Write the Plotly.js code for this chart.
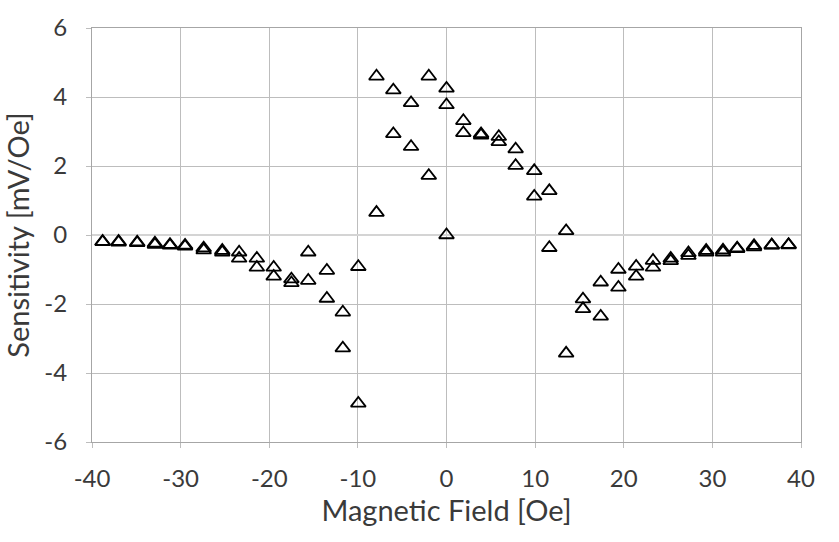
<!DOCTYPE html>
<html>
<head>
<meta charset="utf-8">
<script src="https://cdn.plot.ly/plotly-3.0.1.min.js"></script>
<style>html,body{margin:0;padding:0;background:#fff;}#chart{width:839px;height:542px;}</style>
</head>
<body>
<div id="chart"></div>
<script>
// Magnetic field values (Oe)
const fieldOe = [-38.8,-37.0,-34.9,-32.9,-31.2,-29.5,-27.4,-25.3,-23.4,-21.4,-19.5,-17.5,-15.6,-13.5,-11.7,-9.95,-7.9,-6.0,-4.0,-2.0,0,1.9,3.9,5.9,7.8,9.9,11.6,13.5,15.4,17.4,19.4,21.4,23.3,25.3,27.3,29.3,31.2,32.8,34.7,36.7,38.6];
// Sensitivity (mV/Oe), sweep A
const sweepA = [-0.19,-0.19,-0.21,-0.24,-0.28,-0.30,-0.38,-0.45,-0.50,-0.68,-0.94,-1.28,-0.50,-1.03,-2.24,-0.92,4.60,4.20,3.83,4.60,4.25,3.31,2.93,2.85,2.49,1.86,1.28,0.12,-1.86,-1.37,-1.00,-0.91,-0.74,-0.68,-0.52,-0.45,-0.44,-0.38,-0.31,-0.29,-0.28];
// Sensitivity (mV/Oe), sweep B
const sweepB = [-0.20,-0.21,-0.23,-0.28,-0.30,-0.33,-0.44,-0.50,-0.68,-0.94,-1.20,-1.39,-1.32,-1.84,-3.28,-4.88,0.65,2.93,2.56,1.72,3.77,2.96,2.89,2.70,2.01,1.12,-0.37,-3.43,-2.14,-2.36,-1.52,-1.20,-0.94,-0.75,-0.60,-0.50,-0.50,-0.40,-0.35,-0.30,-0.29];
// Extra point at zero field
const extraX = [0];
const extraY = [0.0];

const xTicks = [-40,-30,-20,-10,0,10,20,30,40];
const yTicks = [-6,-4,-2,0,2,4,6];

const marker = {symbol:'triangle-up-open', size:13, color:'#000', line:{width:1.8, color:'#000'}};
const traces = [
  {x: fieldOe, y: sweepA, mode:'markers', type:'scatter', marker: marker, showlegend:false},
  {x: fieldOe, y: sweepB, mode:'markers', type:'scatter', marker: marker, showlegend:false},
  {x: extraX, y: extraY, mode:'markers', type:'scatter', marker: marker, showlegend:false}
];

const fam = 'Lato, "Open Sans", sans-serif';
const tickFnt = {family:fam, size:24, color:'#3a3a3a'};
const titleFnt = {family:fam, size:29, color:'#3a3a3a'};
const layout = {
  width: 839, height: 542,
  margin: {l:92, r:38, t:28, b:100},
  paper_bgcolor:'#fff', plot_bgcolor:'#fff',
  xaxis: {
    range:[-40,40], tickvals:xTicks, ticktext:xTicks.map(String),
    showgrid:true, gridcolor:'#bdbdbd', gridwidth:1,
    zeroline:false, showline:true, linecolor:'#a6a6a6', mirror:true,
    ticks:'outside', ticklen:5, tickcolor:'#bdbdbd',
    tickfont: tickFnt, ticklabelstandoff:10,
    title:{text:'Magnetic Field [Oe]', font:titleFnt, standoff:4}
  },
  yaxis: {
    range:[-6,6], tickvals:yTicks, ticktext:yTicks.map(String),
    showgrid:true, gridcolor:'#bdbdbd', gridwidth:1,
    zeroline:true, zerolinecolor:'#d4d4d4', zerolinewidth:2.5,
    showline:true, linecolor:'#a6a6a6', mirror:true,
    ticks:'outside', ticklen:5, tickcolor:'#bdbdbd',
    tickfont: tickFnt, ticklabelstandoff:14,
    title:{text:'Sensitivity [mV/Oe]', font:titleFnt, standoff:6}
  },
  font: tickFnt
};
Plotly.newPlot('chart', traces, layout, {staticPlot:true, displayModeBar:false});
</script>
</body>
</html>
